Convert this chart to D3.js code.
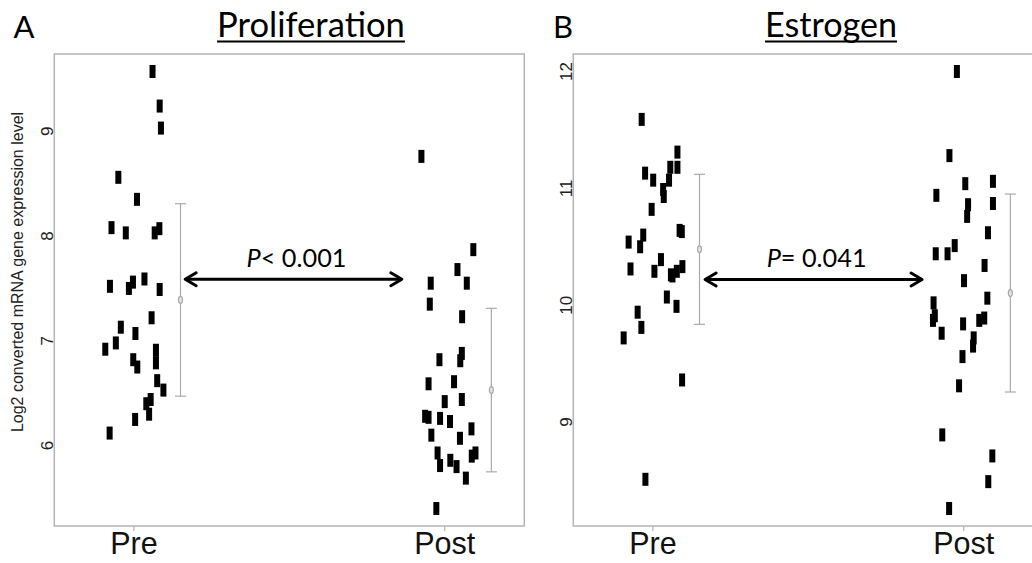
<!DOCTYPE html>
<html>
<head>
<meta charset="utf-8">
<script src="https://cdn.jsdelivr.net/npm/d3@7"></script>
<style>
  body { margin: 0; background: #fff; }
  svg { display: block; }
</style>
</head>
<body>
<svg id="chart" width="1032" height="563"></svg>
<script>
// groups on the x axis
const groups = ["Pre", "Post"];

// proliferation score, pre treatment (x = jittered position, v = value)
const prolifPreX = [1.060, 1.083, 1.087, 0.950, 1.010, 0.928, 0.974, 1.067, 1.082, 0.923,
    0.984, 0.997, 1.034, 1.083, 1.057, 0.958, 1.005, 0.942, 0.908, 1.071,
    0.998, 1.011, 1.071, 1.075, 1.095, 1.054, 1.040, 1.049, 1.004, 0.922];
const prolifPre = [9.57, 9.24, 9.03, 8.56, 8.35, 8.08, 8.03, 8.03, 8.07, 7.52,
    7.50, 7.56, 7.59, 7.49, 7.22, 7.13, 7.07, 6.98, 6.92, 6.91,
    6.82, 6.75, 6.79, 6.62, 6.53, 6.44, 6.40, 6.30, 6.25, 6.12];

// proliferation score, post treatment
const prolifPostX = [1.925, 2.092, 2.041, 1.955, 2.071, 1.952, 2.056, 1.983, 2.055, 2.050,
    1.948, 2.030, 2.000, 2.055, 1.937, 1.948, 1.985, 2.017, 1.957, 2.049,
    2.086, 1.977, 1.985, 2.018, 2.038, 2.087, 2.099, 2.068, 1.973];
const prolifPost = [8.76, 7.87, 7.68, 7.55, 7.55, 7.35, 7.23, 6.82, 6.88, 6.81,
    6.59, 6.61, 6.42, 6.44, 6.28, 6.27, 6.26, 6.23, 6.10, 6.07,
    6.16, 5.93, 5.81, 5.86, 5.80, 5.90, 5.93, 5.69, 5.40];

// estrogen score, pre treatment
const estrPreX = [0.964, 1.079, 1.056, 1.079, 0.975, 1.001, 1.052, 1.033, 1.035, 0.996,
    1.086, 1.093, 0.969, 0.922, 0.959, 1.026, 1.095, 0.928, 1.005, 1.058,
    1.063, 1.077, 1.045, 1.076, 0.951, 0.963, 0.906, 1.094, 0.976];
const estrPre = [11.59, 11.31, 11.18, 11.18, 11.13, 11.07, 11.07, 10.99, 10.93, 10.82,
    10.64, 10.63, 10.60, 10.54, 10.50, 10.39, 10.33, 10.31, 10.29, 10.26,
    10.25, 10.29, 10.07, 9.99, 9.94, 9.81, 9.72, 9.36, 8.51];

// estrogen score, post treatment
const estrPostX = [1.978, 1.954, 2.005, 2.094, 1.912, 2.014, 2.094, 2.011, 2.078, 1.971,
    1.910, 1.948, 2.067, 2.001, 2.076, 1.903, 1.907, 1.901, 1.929, 1.998,
    2.050, 2.066, 2.032, 2.030, 1.996, 1.985, 1.931, 2.092, 2.079, 1.953];
const estrPost = [12.00, 11.28, 11.04, 11.06, 10.94, 10.86, 10.87, 10.76, 10.62, 10.51,
    10.44, 10.44, 10.34, 10.21, 10.06, 10.02, 9.91, 9.87, 9.76, 9.84,
    9.87, 9.89, 9.72, 9.65, 9.56, 9.31, 8.89, 8.71, 8.49, 8.26];

// mean and sd per group (Pre, Post)
const prolifMean = [7.39, 6.53];
const prolifSd = [0.918, 0.78];
const estrMean = [10.478, 10.104];
const estrSd = [0.642, 0.847];

const prolifTicks = [6, 7, 8, 9];
const estrTicks = [9, 10, 11, 12];

const svg = d3.select("#chart");

// R style 4% range extension
function extend(lo, hi) {
    const pad = (hi - lo) * 0.04;
    return [lo - pad, hi + pad];
}

function fitText(sel, target) {
    const w = sel.node().getComputedTextLength();
    const size = parseFloat(sel.style("font-size"));
    sel.style("font-size", (size * target / w) + "px");
}

function drawPanel(opt) {
    const left = opt.left, top = 54, width = 470, height = 472;
    const g = svg.append("g").attr("transform", "translate(" + left + "," + top + ")");

    const allVals = opt.pre.concat(opt.post);
    const x = d3.scaleLinear().domain(extend(0.8, 2.2)).range([0, width]);
    const y = d3.scaleLinear().domain(extend(d3.min(allVals), d3.max(allVals))).range([height, 0]);

    // frame
    g.append("rect")
        .attr("width", width).attr("height", height)
        .attr("fill", "none").attr("stroke", "#b4b4b4").attr("stroke-width", 1.5);

    // x axis ticks + labels
    groups.forEach(function (name, i) {
        g.append("line")
            .attr("x1", x(i + 1)).attr("x2", x(i + 1))
            .attr("y1", height).attr("y2", height + 5)
            .attr("stroke", "#b4b4b4").attr("stroke-width", 1.2);
        g.append("text")
            .attr("x", x(i + 1)).attr("y", 500)
            .attr("text-anchor", "middle")
            .style("font-family", "'Liberation Sans', Arial, sans-serif")
            .style("font-size", "30.5px")
            .attr("fill", "#111")
            .text(name);
    });

    // y tick labels, rotated like base R
    g.selectAll(".ytick")
        .data(opt.ticks)
        .join("text")
        .attr("class", "ytick")
        .attr("transform", function (d) { return "translate(-1.5," + y(d) + ") rotate(-90)"; })
        .attr("text-anchor", "middle")
        .style("font-family", "'Liberation Sans', Arial, sans-serif")
        .style("font-size", "17px")
        .attr("fill", "#222")
        .text(function (d) { return d; });

    // points
    const pts = opt.preX.map(function (d, i) { return [d, opt.pre[i]]; })
        .concat(opt.postX.map(function (d, i) { return [d, opt.post[i]]; }));
    g.selectAll(".pt")
        .data(pts)
        .join("rect")
        .attr("class", "pt")
        .attr("x", function (d) { return x(d[0]) - 3; })
        .attr("y", function (d) { return y(d[1]) - 6.5; })
        .attr("width", 6).attr("height", 13)
        .attr("fill", "#000");

    // mean +- sd bars
    opt.mean.forEach(function (m, i) {
        const cx = x(i + 1.15);
        const eb = g.append("g").attr("stroke", "#aaa").attr("stroke-width", 1.2);
        eb.append("line").attr("x1", cx).attr("x2", cx)
            .attr("y1", y(m + opt.sd[i])).attr("y2", y(m - opt.sd[i]));
        eb.append("line").attr("x1", cx - 5.5).attr("x2", cx + 5.5)
            .attr("y1", y(m + opt.sd[i])).attr("y2", y(m + opt.sd[i]));
        eb.append("line").attr("x1", cx - 5.5).attr("x2", cx + 5.5)
            .attr("y1", y(m - opt.sd[i])).attr("y2", y(m - opt.sd[i]));
        eb.append("ellipse").attr("cx", cx).attr("cy", y(m))
            .attr("rx", 2).attr("ry", 3.5).attr("fill", "#e4e4e4");
    });

    // double arrow with p value
    const ax1 = x(opt.arrow[0]), ax2 = x(opt.arrow[1]), ay = y(opt.arrow[2]);
    const ar = g.append("g").attr("stroke", "#000").attr("stroke-width", 3)
        .attr("fill", "none").attr("stroke-linecap", "round").attr("stroke-linejoin", "round");
    ar.append("line").attr("x1", ax1 + 1).attr("x2", ax2 - 1).attr("y1", ay).attr("y2", ay);
    ar.append("path").attr("d", "M" + (ax1 + 11) + "," + (ay - 6.5) + "L" + ax1 + "," + ay + "L" + (ax1 + 11) + "," + (ay + 6.5));
    ar.append("path").attr("d", "M" + (ax2 - 11) + "," + (ay - 6.5) + "L" + ax2 + "," + ay + "L" + (ax2 - 11) + "," + (ay + 6.5));

    const pt = g.append("text")
        .attr("x", (ax1 + ax2) / 2 + 3).attr("y", ay - 12.6)
        .attr("text-anchor", "middle")
        .style("font-family", "Lato, 'Open Sans', sans-serif")
        .style("font-size", "26px")
        .attr("fill", "#000");
    pt.append("tspan").style("font-style", "italic").text("P");
    pt.append("tspan").text(opt.ptext);
    fitText(pt, 100);

    // panel letter and underlined title
    svg.append("text")
        .attr("x", opt.letterX).attr("y", 37.5)
        .attr("text-anchor", "middle")
        .style("font-family", "Lato, 'Open Sans', sans-serif")
        .style("font-size", "31px")
        .text(opt.letter);
    const t = svg.append("text")
        .attr("x", opt.titleX).attr("y", 37)
        .attr("text-anchor", "middle")
        .style("font-family", "Lato, 'Open Sans', sans-serif")
        .style("font-size", "28px")
        .text(opt.title);
    fitText(t, opt.titleW);
    const tw = t.node().getComputedTextLength();
    svg.append("line")
        .attr("x1", opt.titleX - tw / 2).attr("x2", opt.titleX + tw / 2)
        .attr("y1", 41.5).attr("y2", 41.5)
        .attr("stroke", "#000").attr("stroke-width", 1.8);
}

drawPanel({
    left: 54.3, letter: "A", letterX: 24, title: "Proliferation", titleX: 311, titleW: 188,
    pre: prolifPre, preX: prolifPreX, post: prolifPost, postX: prolifPostX,
    mean: prolifMean, sd: prolifSd, ticks: prolifTicks,
    arrow: [1.165, 1.862, 7.588], ptext: "< 0.001"
});

drawPanel({
    left: 573.3, letter: "B", letterX: 563, title: "Estrogen", titleX: 831, titleW: 132,
    pre: estrPre, preX: estrPreX, post: estrPost, postX: estrPostX,
    mean: estrMean, sd: estrSd, ticks: estrTicks,
    arrow: [1.168, 1.866, 10.22], ptext: "= 0.041"
});

// shared y axis title
svg.append("text")
    .attr("transform", "translate(23,272) rotate(-90)")
    .attr("text-anchor", "middle")
    .style("font-family", "'Liberation Sans', Arial, sans-serif")
    .style("font-size", "16px")
    .attr("fill", "#222")
    .text("Log2 converted mRNA gene expression level");
</script>
</body>
</html>
